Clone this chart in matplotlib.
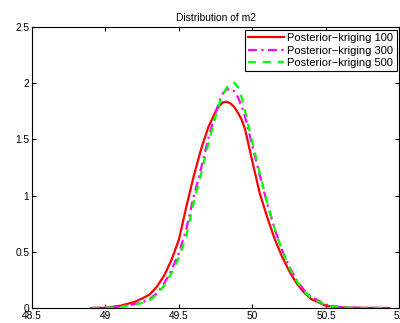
import matplotlib
matplotlib.use("Agg")
import matplotlib.pyplot as plt

# Density estimates
x = [48.9, 49.0, 49.1, 49.2, 49.25, 49.3, 49.35, 49.4, 49.45, 49.5, 49.55,
     49.6, 49.65, 49.7, 49.75, 49.775, 49.8, 49.825, 49.85, 49.875, 49.9, 49.925,
     49.95, 50.0, 50.05, 50.1, 50.15, 50.2, 50.25, 50.3, 50.35, 50.4, 50.5,
     50.6, 50.7, 50.8, 50.93]

kriging_100 = [0.0, 0.002, 0.02, 0.055, 0.085, 0.12, 0.19, 0.29, 0.43, 0.61, 0.90,
               1.17, 1.41, 1.61, 1.75, 1.80, 1.83, 1.835, 1.82, 1.79, 1.74, 1.68,
               1.59, 1.30, 1.02, 0.81, 0.62, 0.46, 0.33, 0.22, 0.14, 0.08, 0.02,
               0.005, 0.002, 0.001, 0.0]

kriging_300 = [0.0, 0.003, 0.012, 0.035, 0.05, 0.08, 0.13, 0.22, 0.34, 0.49, 0.70,
               0.99, 1.24, 1.51, 1.74, 1.84, 1.91, 1.945, 1.95, 1.93, 1.88, 1.80,
               1.70, 1.44, 1.18, 0.93, 0.71, 0.52, 0.37, 0.25, 0.16, 0.10, 0.03,
               0.007, 0.002, 0.0, 0.0]

kriging_500 = [0.0, 0.002, 0.01, 0.03, 0.045, 0.07, 0.12, 0.20, 0.31, 0.45, 0.64,
               0.94, 1.19, 1.46, 1.71, 1.82, 1.90, 1.96, 2.0, 2.005, 1.97, 1.88,
               1.75, 1.47, 1.20, 0.94, 0.71, 0.52, 0.36, 0.24, 0.15, 0.09, 0.025,
               0.005, 0.001, 0.0, 0.0]

labels = ["Posterior\u2212kriging 100", "Posterior\u2212kriging 300", "Posterior\u2212kriging 500"]

plt.rcParams["font.family"] = ["Liberation Sans", "DejaVu Sans"]

fig = plt.figure(figsize=(4.0, 3.23), dpi=100)
ax = fig.add_axes([0.08, 0.0464, 0.9185, 0.87])

ax.plot(x, kriging_100, color="red", lw=1.6, ls="-", label=labels[0])
ax.plot(x, kriging_300, color="magenta", lw=1.6, ls=(0, (4, 2, 1, 2)), label=labels[1])
ax.plot(x, kriging_500, color="lime", lw=1.6, ls=(0, (3.6, 3.1)), label=labels[2])

ax.set_xlim(48.5, 51)
ax.set_ylim(0, 2.5)
ax.set_xticks([48.5, 49, 49.5, 50, 50.5, 51])
ax.set_xticklabels(["48.5", "49", "49.5", "50", "50.5", "51"])
ax.set_yticks([0, 0.5, 1, 1.5, 2, 2.5])
ax.set_yticklabels(["0", "0.5", "1", "1.5", "2", "2.5"])
ax.tick_params(direction="in", top=True, right=True, labelsize=7.3, length=3, pad=2)
for s in ax.spines.values():
    s.set_linewidth(0.8)

ax.set_title("Distribution of m2", fontsize=7.4, pad=4)

leg = ax.legend(loc="upper right", fontsize=8, fancybox=False, framealpha=1,
                edgecolor="black", borderaxespad=0.25, handlelength=3.2,
                handletextpad=0.3, labelspacing=0.22, borderpad=0.3)
leg.get_frame().set_linewidth(0.8)

fig.savefig("out.png", dpi=100)
